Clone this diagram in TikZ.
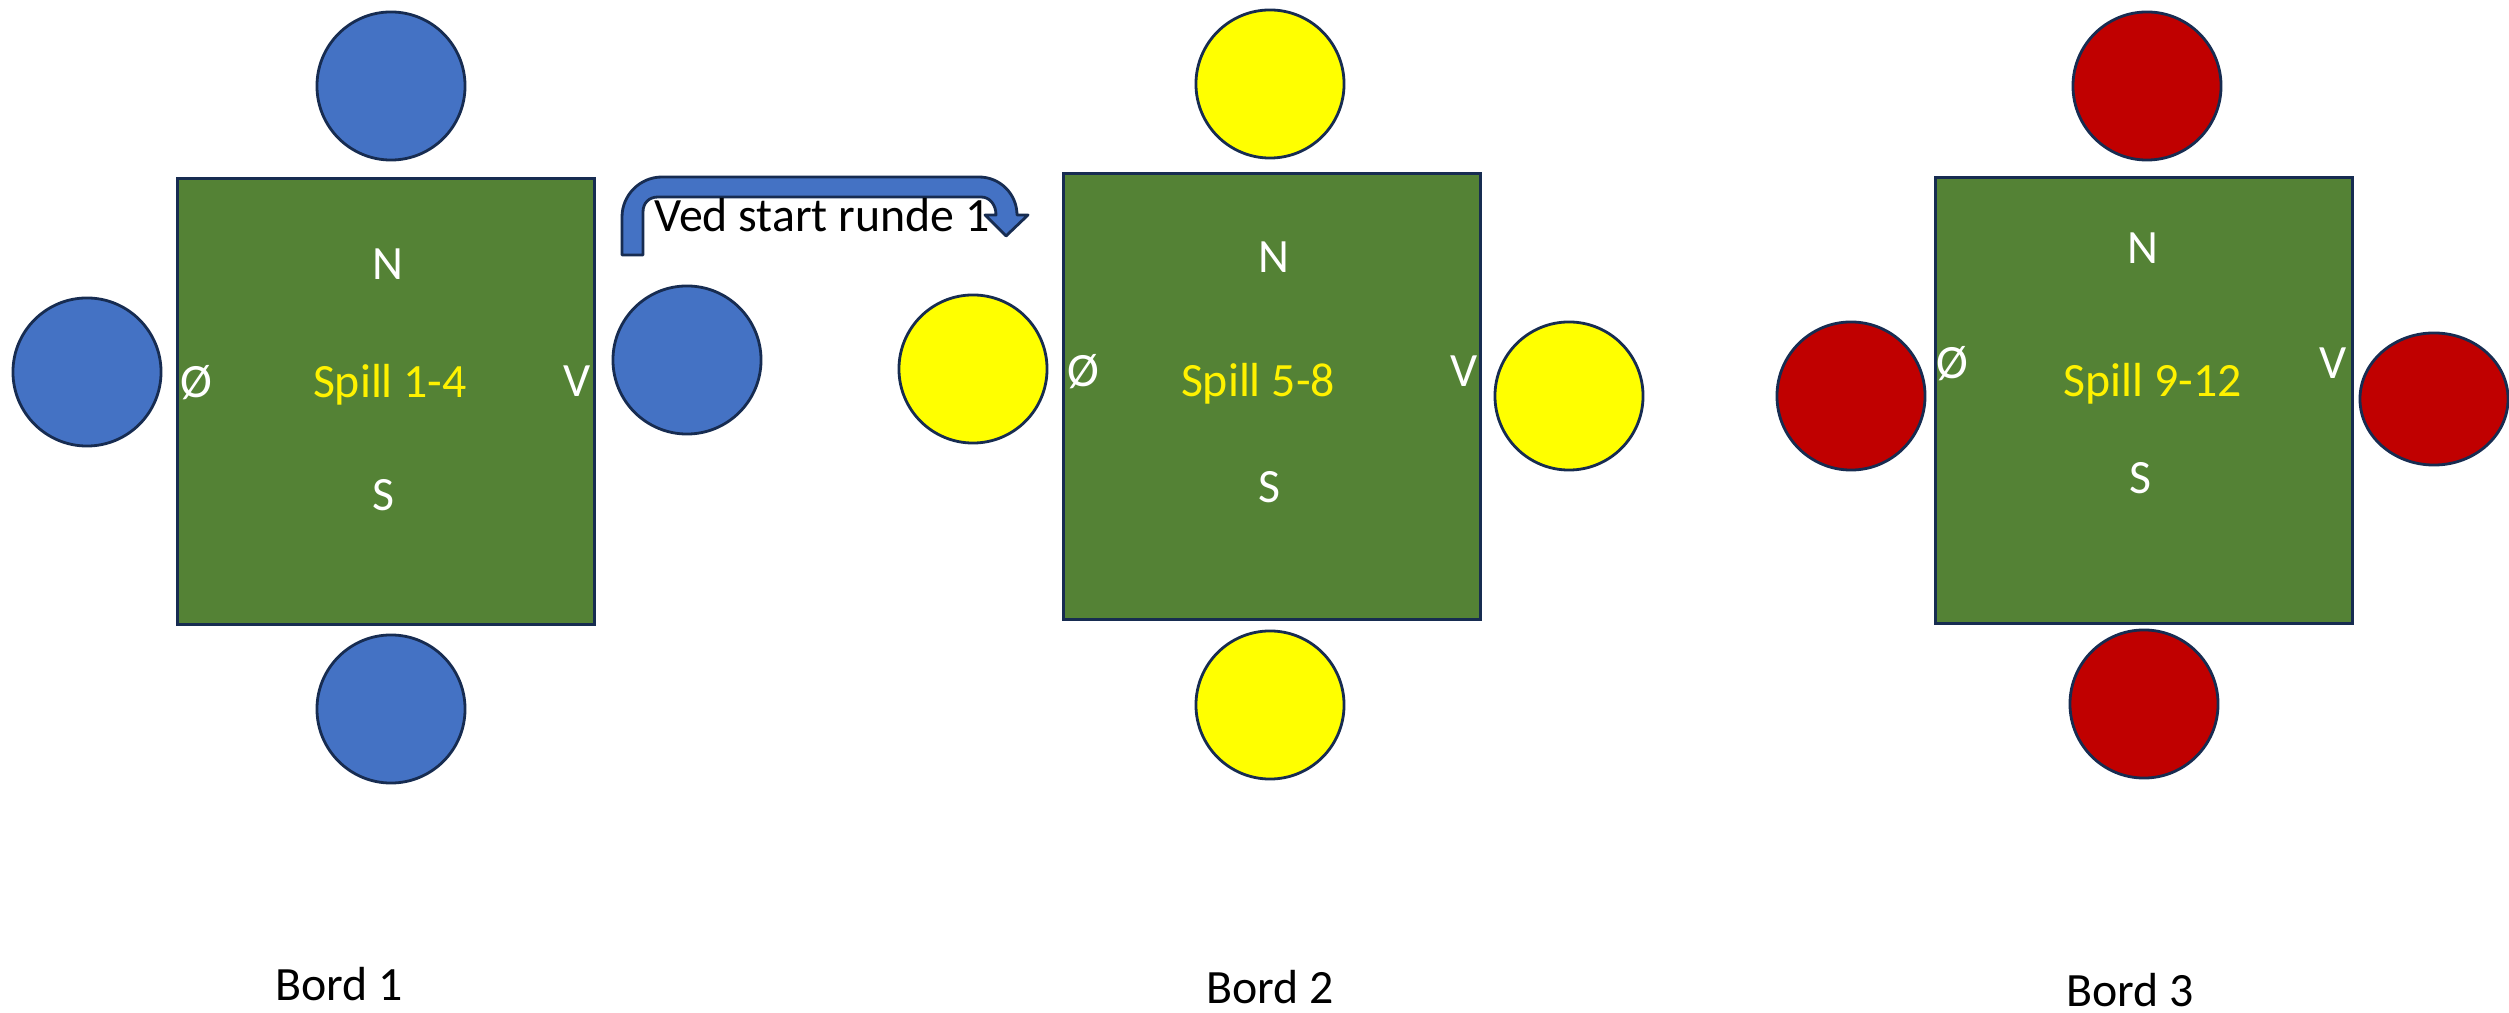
\documentclass[tikz,border=0pt]{standalone}
\usepackage{fontspec}
\setmainfont{Carlito}
\usetikzlibrary{shapes.geometric}

\definecolor{seatblue}{HTML}{4472C4}
\definecolor{seatyellow}{HTML}{FFFF00}
\definecolor{seatred}{HTML}{C00000}
\definecolor{tablegreen}{HTML}{548235}
\definecolor{edge}{HTML}{172C51}

\tikzset{
  bord/.style={draw=edge, fill=tablegreen, line width=0.8pt, minimum width=4.16cm, minimum height=4.45cm, inner sep=0pt},
  seat/.style={circle, draw=edge, line width=0.8pt, minimum size=1.48cm, inner sep=0pt},
  wind/.style={anchor=base, text=white, inner sep=0pt},
  spill/.style={anchor=base, text=yellow, inner sep=0pt},
  bordlabel/.style={anchor=base, inner sep=0pt}
}

\begin{document}
\begin{tikzpicture}[x=0.01cm,y=-0.01cm,font=\fontsize{13.6}{16}\selectfont]

\useasboundingbox (0,0) rectangle (2509,1013);

% Bord 1
\node[bord] (b1) at (386,401.5) {};
\node[seat,fill=seatblue] (b1n) at (391,86) {};
\node[seat,fill=seatblue] (b1o) at (87,372) {};
\node[seat,fill=seatblue] (b1v) at (687,360) {};
\node[seat,fill=seatblue] (b1s) at (391,709) {};
\node[wind] (b1N) at (388,280) {N};
\node[wind] (b1O) at (196,398) {Ø};
\node[spill] (b1sp) at (390,398) {Spill 1-4};
\node[wind] (b1V) at (577,397) {V};
\node[wind] (b1S) at (383,511) {S};
\node[bordlabel] (b1lbl) at (339,1000) {Bord 1};

% Bord 2
\node[bord] (b2) at (1272,396.5) {};
\node[seat,fill=seatyellow] (b2n) at (1270,84) {};
\node[seat,fill=seatyellow] (b2o) at (973,369) {};
\node[seat,fill=seatyellow] (b2v) at (1569,396) {};
\node[seat,fill=seatyellow] (b2s) at (1270,705) {};
\node[wind] (b2N) at (1274,273) {N};
\node[wind] (b2O) at (1083,387) {Ø};
\node[spill] (b2sp) at (1258,397) {Spill 5-8};
\node[wind] (b2V) at (1464,387) {V};
\node[wind] (b2S) at (1269,503) {S};
\node[bordlabel] (b2lbl) at (1270,1003) {Bord 2};

% Bord 3
\node[bord] (b3) at (2144,400.5) {};
\node[seat,fill=seatred] (b3n) at (2147,86) {};
\node[seat,fill=seatred] (b3o) at (1851,396) {};
\node[ellipse,draw=edge,line width=0.8pt,fill=seatred,minimum width=1.48cm,minimum height=1.32cm,inner sep=0pt] (b3v) at (2434,399) {};
\node[seat,fill=seatred] (b3s) at (2144,704) {};
\node[wind] (b3N) at (2143,264) {N};
\node[wind] (b3O) at (1952,379) {Ø};
\node[spill] (b3sp) at (2153,397) {Spill 9-12};
\node[wind] (b3V) at (2333,379) {V};
\node[wind] (b3S) at (2140,494) {S};
\node[bordlabel] (b3lbl) at (2130,1006) {Bord 3};

% pil fra bord 1 til bord 2
\draw[fill=seatblue, draw=edge, line width=0.8pt, line join=round]
  (622,255) -- (622,217) .. controls (622,195) and (640,177) .. (662,177)
  -- (979,177) .. controls (1000,177) and (1017,194) .. (1017,215)
  -- (1028,215) -- (1006,236) -- (985,215) -- (996,215)
  .. controls (996,205) and (990,197) .. (981,197)
  -- (658,197) .. controls (649,197) and (643,203) .. (643,212)
  -- (643,255) -- cycle;
\node[bordlabel] (ved) at (822,232) {Ved start runde 1};

\end{tikzpicture}
\end{document}
